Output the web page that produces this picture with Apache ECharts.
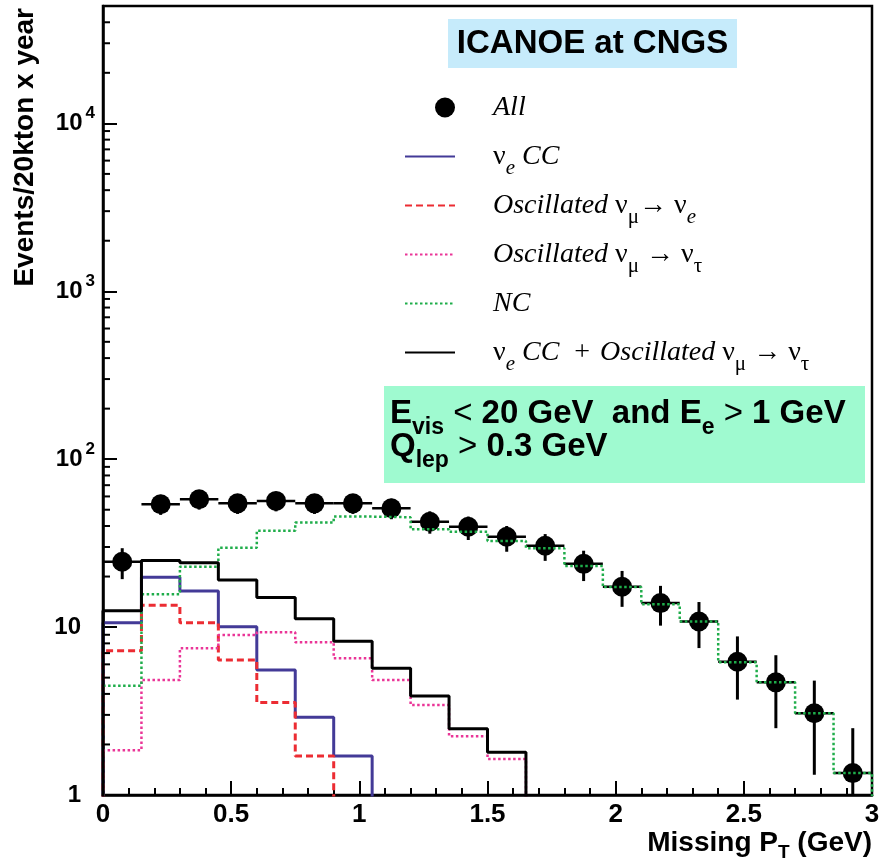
<!DOCTYPE html>
<html>
<head>
<meta charset="utf-8">
<title>ICANOE at CNGS - missing PT</title>
<script src="https://cdn.jsdelivr.net/npm/echarts@6/dist/echarts.min.js"></script>
<style>
html, body { margin: 0; padding: 0; background: #fff; }
#chart { width: 883px; height: 866px; }
</style>
</head>
<body>
<div id="chart"></div>
<script>
// missing PT bins (GeV), 20 bins of 0.15
var binEdges = [0, 0.15, 0.3, 0.45, 0.6, 0.75, 0.9, 1.05, 1.2, 1.35, 1.5, 1.65, 1.8, 1.95, 2.1, 2.25, 2.4, 2.55, 2.7, 2.85, 3.0];

// events / 20 kton x year
var allEvents = [24.5, 53.9, 57.7, 54.6, 56.4, 54.6, 54.6, 51.0, 42.4, 39.6, 34.5, 30.5, 23.8, 17.4, 13.9, 10.8, 6.22, 4.69, 3.07, 1.35];
var allErrLo  = [19.3, 46.6, 50.1, 47.2, 48.9, 47.2, 47.2, 43.9, 36.0, 33.0, 28.1, 24.8, 18.8, 13.2, 10.2, 7.5, 3.7, 2.5, 1.32, 0.2];
var allErrHi  = [29.5, 61.3, 65.3, 62.0, 63.9, 62.0, 62.0, 58.1, 48.9, 45.5, 40.0, 35.8, 28.5, 21.6, 17.6, 14.1, 8.8, 6.8, 4.8, 2.5];
var nueCC     = [10.6, 19.8, 16.4, 10.05, 5.55, 2.90, 1.71, 0, 0, 0, 0, 0, 0, 0, 0, 0, 0, 0, 0, 0];
var oscNue    = [7.24, 13.5, 10.6, 6.37, 3.55, 1.71, 0, 0, 0, 0, 0, 0, 0, 0, 0, 0, 0, 0, 0, 0];
var oscNutau  = [1.85, 4.84, 7.48, 8.97, 9.31, 8.12, 6.52, 4.84, 3.44, 2.24, 1.64, 0, 0, 0, 0, 0, 0, 0, 0, 0];
var ncEvents  = [4.48, 15.7, 22.9, 29.7, 37.5, 41.9, 45.5, 45.1, 38.2, 37.0, 32.6, 29.5, 23.1, 17.3, 13.7, 10.8, 6.17, 4.69, 3.07, 1.35];
var nueCCplusNutau = [12.5, 24.9, 24.2, 19.1, 15.0, 11.2, 8.23, 5.68, 3.89, 2.48, 1.80, 0, 0, 0, 0, 0, 0, 0, 0, 0];

var legendText = {
	'All': '{g| }{it|All}',
	'νe CC': '{g| }{nu|ν}{subi|e}{it| CC}',
	'Oscillated νμ→νe': '{g| }{it|Oscillated }{nu|ν}{sub|μ}{nu|→ ν}{subi|e}',
	'Oscillated νμ→ντ': '{g| }{it|Oscillated }{nu|ν}{sub|μ}{nu| → ν}{sub|τ}',
	'NC': '{g| }{it|NC}',
	'νe CC + Oscillated νμ→ντ': '{g| }{nu|ν}{subi|e}{it| CC}{w1| }{nu|+}{w2| }{it|Oscillated }{nu|ν}{sub|μ}{nu| → ν}{sub|τ}'
};

var yMin = 1, yMax = 50000;
var belowAxis = 0.5; // empty bins drop under the frame and get clipped

// minor log ticks 2..9 per decade
var minorTicks = [];
for (var d = 1; d < yMax; d *= 10) {
	for (var k = 2; k <= 9; k++) {
		if (k * d < yMax) minorTicks.push(k * d);
	}
}

function histPoints(vals) {
	var pts = [[binEdges[0], belowAxis]];
	vals.forEach(function (v, i) {
		pts.push([binEdges[i], v > 0 ? v : belowAxis]);
	});
	var last = vals[vals.length - 1];
	pts.push([binEdges[vals.length], last > 0 ? last : belowAxis]);
	pts.push([binEdges[vals.length], belowAxis]);
	return pts;
}

function histSeries(name, vals, color, width, dash) {
	return {
		name: name,
		type: 'line',
		step: 'end',
		symbol: 'none',
		data: histPoints(vals),
		lineStyle: { color: color, width: width, type: dash },
		itemStyle: { color: color }
	};
}

var sans = 'Liberation Sans';
var serif = 'Liberation Serif';

// rich styles: subscripts sit at the bottom of a tall line box
var boxRich = {
	b: { fontFamily: sans, fontWeight: 'bold', fontSize: 33, lineHeight: 51, fill: '#000' },
	s: { fontFamily: sans, fontWeight: 'bold', fontSize: 23, verticalAlign: 'bottom', fill: '#000' },
	o: { fontFamily: sans, fontSize: 33, lineHeight: 51, fill: '#000' }
};

var chart = echarts.init(document.getElementById('chart'));
var option = {
	animation: false,
	backgroundColor: '#fff',
	grid: {
		left: 103, right: 11, top: 6, bottom: 71,
		show: true, borderColor: '#000', borderWidth: 2.5,
		outerBoundsMode: 'none'
	},
	legend: {
		orient: 'vertical',
		left: 404,
		top: 85,
		padding: 0,
		itemWidth: 50,
		itemHeight: 20,
		itemGap: 4,
		selectedMode: false,
		itemStyle: { opacity: 0 },
		data: [
			{ name: 'All', icon: 'path://M0,0M50,20M30,10a10,10 0 1,0 20,0a10,10 0 1,0 -20,0z', itemStyle: { opacity: 1, color: '#000' } },
			'νe CC', 'Oscillated νμ→νe', 'Oscillated νμ→ντ', 'NC', 'νe CC + Oscillated νμ→ντ'
		],
		formatter: function (name) { return legendText[name]; },
		textStyle: {
			color: '#000',
			fontFamily: serif,
			fontSize: 28,
			lineHeight: 45,
			rich: {
				g: { width: 33, lineHeight: 45 },
				w1: { width: 15, lineHeight: 45 },
				w2: { width: 10, lineHeight: 45 },
				it: { fontFamily: serif, fontStyle: 'italic', fontSize: 28, lineHeight: 45, color: '#000' },
				nu: { fontFamily: serif, fontSize: 28, lineHeight: 45, color: '#000' },
				sub: { fontFamily: serif, fontSize: 21, verticalAlign: 'bottom', color: '#000' },
				subi: { fontFamily: serif, fontStyle: 'italic', fontSize: 21, verticalAlign: 'bottom', color: '#000' }
			}
		}
	},
	xAxis: {
		type: 'value',
		min: 0,
		max: 3,
		interval: 0.5,
		axisLine: { lineStyle: { color: '#000', width: 2.5 } },
		axisTick: { inside: true, length: 14, lineStyle: { color: '#000', width: 2 } },
		minorTick: { show: true, splitNumber: 5, length: 7, lineStyle: { color: '#000', width: 2 } },
		splitLine: { show: false },
		minorSplitLine: { show: false },
		axisLabel: { color: '#000', fontFamily: sans, fontWeight: 'bold', fontSize: 26, margin: 7 },
		name: '{a|Missing P}{t|T}{a| (GeV)}',
		nameLocation: 'end',
		nameGap: 0,
		nameMoveOverlap: false,
		nameTextStyle: {
			align: 'right',
			verticalAlign: 'top',
			padding: [29, 0, 0, 0],
			rich: {
				a: { fontFamily: sans, fontWeight: 'bold', fontSize: 28, lineHeight: 38, color: '#000' },
				t: { fontFamily: sans, fontWeight: 'bold', fontSize: 19, verticalAlign: 'bottom', color: '#000' }
			}
		}
	},
	yAxis: {
		type: 'log',
		logBase: 10,
		min: yMin,
		max: yMax,
		splitNumber: 5,
		axisLine: { lineStyle: { color: '#000', width: 2.5 } },
		axisTick: { inside: true, length: 14, lineStyle: { color: '#000', width: 2 } },
		splitLine: { show: false },
		axisLabel: {
			margin: 8,
			formatter: function (v) {
				var e = Math.round(Math.log10(v));
				if (Math.abs(Math.pow(10, e) - v) > 1e-6 * v) return '';
				if (e === 0) return '{n|1}';
				if (e === 1) return '{n|10}';
				return '{m|10}{s|' + e + '}';
			},
			rich: {
				n: { fontFamily: sans, fontWeight: 'bold', fontSize: 24, lineHeight: 37, padding: [0, 14, 0, 0], color: '#000' },
				m: { fontFamily: sans, fontWeight: 'bold', fontSize: 24, lineHeight: 37, color: '#000' },
				s: { fontFamily: sans, fontWeight: 'bold', fontSize: 17, verticalAlign: 'top', padding: [0, 0, 0, 3], color: '#000' }
			}
		}
	},
	graphic: [
		{ type: 'rect', shape: { x: 448, y: 19, width: 289, height: 49 }, style: { fill: '#c6ebfb' } },
		{
			type: 'text', x: 592.5, y: 44,
			style: { text: 'ICANOE at CNGS', font: 'bold 33px "Liberation Sans"', fill: '#000', align: 'center', verticalAlign: 'middle' }
		},
		{ type: 'rect', shape: { x: 384, y: 386, width: 481, height: 97 }, style: { fill: '#9ffad0' } },
		{
			type: 'text', x: 390, y: 388.5,
			style: {
				text: '{b|E}{s|vis}{o| < }{b|20 GeV  and E}{s|e}{o| > }{b|1 GeV}',
				align: 'left', verticalAlign: 'top', fill: '#000', rich: boxRich
			}
		},
		{
			type: 'text', x: 390, y: 421.5,
			style: {
				text: '{b|Q}{s|lep}{o| > }{b|0.3 GeV}',
				align: 'left', verticalAlign: 'top', fill: '#000', rich: boxRich
			}
		},
		{
			type: 'text', x: 25, y: 8, rotation: Math.PI / 2,
			style: { text: 'Events/20kton x year', font: 'bold 28px "Liberation Sans"', fill: '#000', align: 'right', verticalAlign: 'middle' }
		}
	],
	series: [
		{
			// horizontal bin bars and vertical error bars of "All"
			type: 'custom',
			silent: true,
			data: allEvents.map(function (v, i) {
				return [(binEdges[i] + binEdges[i + 1]) / 2, v, allErrLo[i], allErrHi[i], binEdges[i], binEdges[i + 1]];
			}),
			renderItem: function (params, api) {
				var x = api.value(0), v = api.value(1);
				var lo = Math.max(api.value(2), yMin), hi = api.value(3);
				var a = api.coord([api.value(4), v]);
				var b = api.coord([api.value(5), v]);
				var c = api.coord([x, lo]);
				var t = api.coord([x, hi]);
				return {
					type: 'group',
					children: [
						{ type: 'line', shape: { x1: a[0], y1: a[1], x2: b[0], y2: b[1] }, style: { stroke: '#000', lineWidth: 2.5 } },
						{ type: 'line', shape: { x1: c[0], y1: c[1], x2: t[0], y2: t[1] }, style: { stroke: '#000', lineWidth: 3 } }
					]
				};
			}
		},
		{
			name: 'All',
			type: 'scatter',
			symbol: 'circle',
			symbolSize: 20,
			itemStyle: { color: '#000', opacity: 1 },
			data: allEvents.map(function (v, i) { return [(binEdges[i] + binEdges[i + 1]) / 2, v]; })
		},
		histSeries('νe CC', nueCC, '#433a97', 3, 'solid'),
		histSeries('Oscillated νμ→νe', oscNue, '#ec2c33', 3, [7, 4]),
		histSeries('Oscillated νμ→ντ', oscNutau, '#ea3597', 2.5, [2.5, 2.5]),
		histSeries('NC', ncEvents, '#1fad4a', 2.5, [2.5, 2.5]),
		histSeries('νe CC + Oscillated νμ→ντ', nueCCplusNutau, '#000', 3, 'solid'),
		{
			// minor ticks of the log axis
			type: 'custom',
			silent: true,
			z: 5,
			data: minorTicks.map(function (v) { return [0, v]; }),
			renderItem: function (params, api) {
				var p = api.coord([api.value(0), api.value(1)]);
				return { type: 'line', shape: { x1: p[0], y1: p[1], x2: p[0] + 7, y2: p[1] }, style: { stroke: '#000', lineWidth: 2 } };
			}
		}
	]
};
chart.setOption(option);
</script>
</body>
</html>
